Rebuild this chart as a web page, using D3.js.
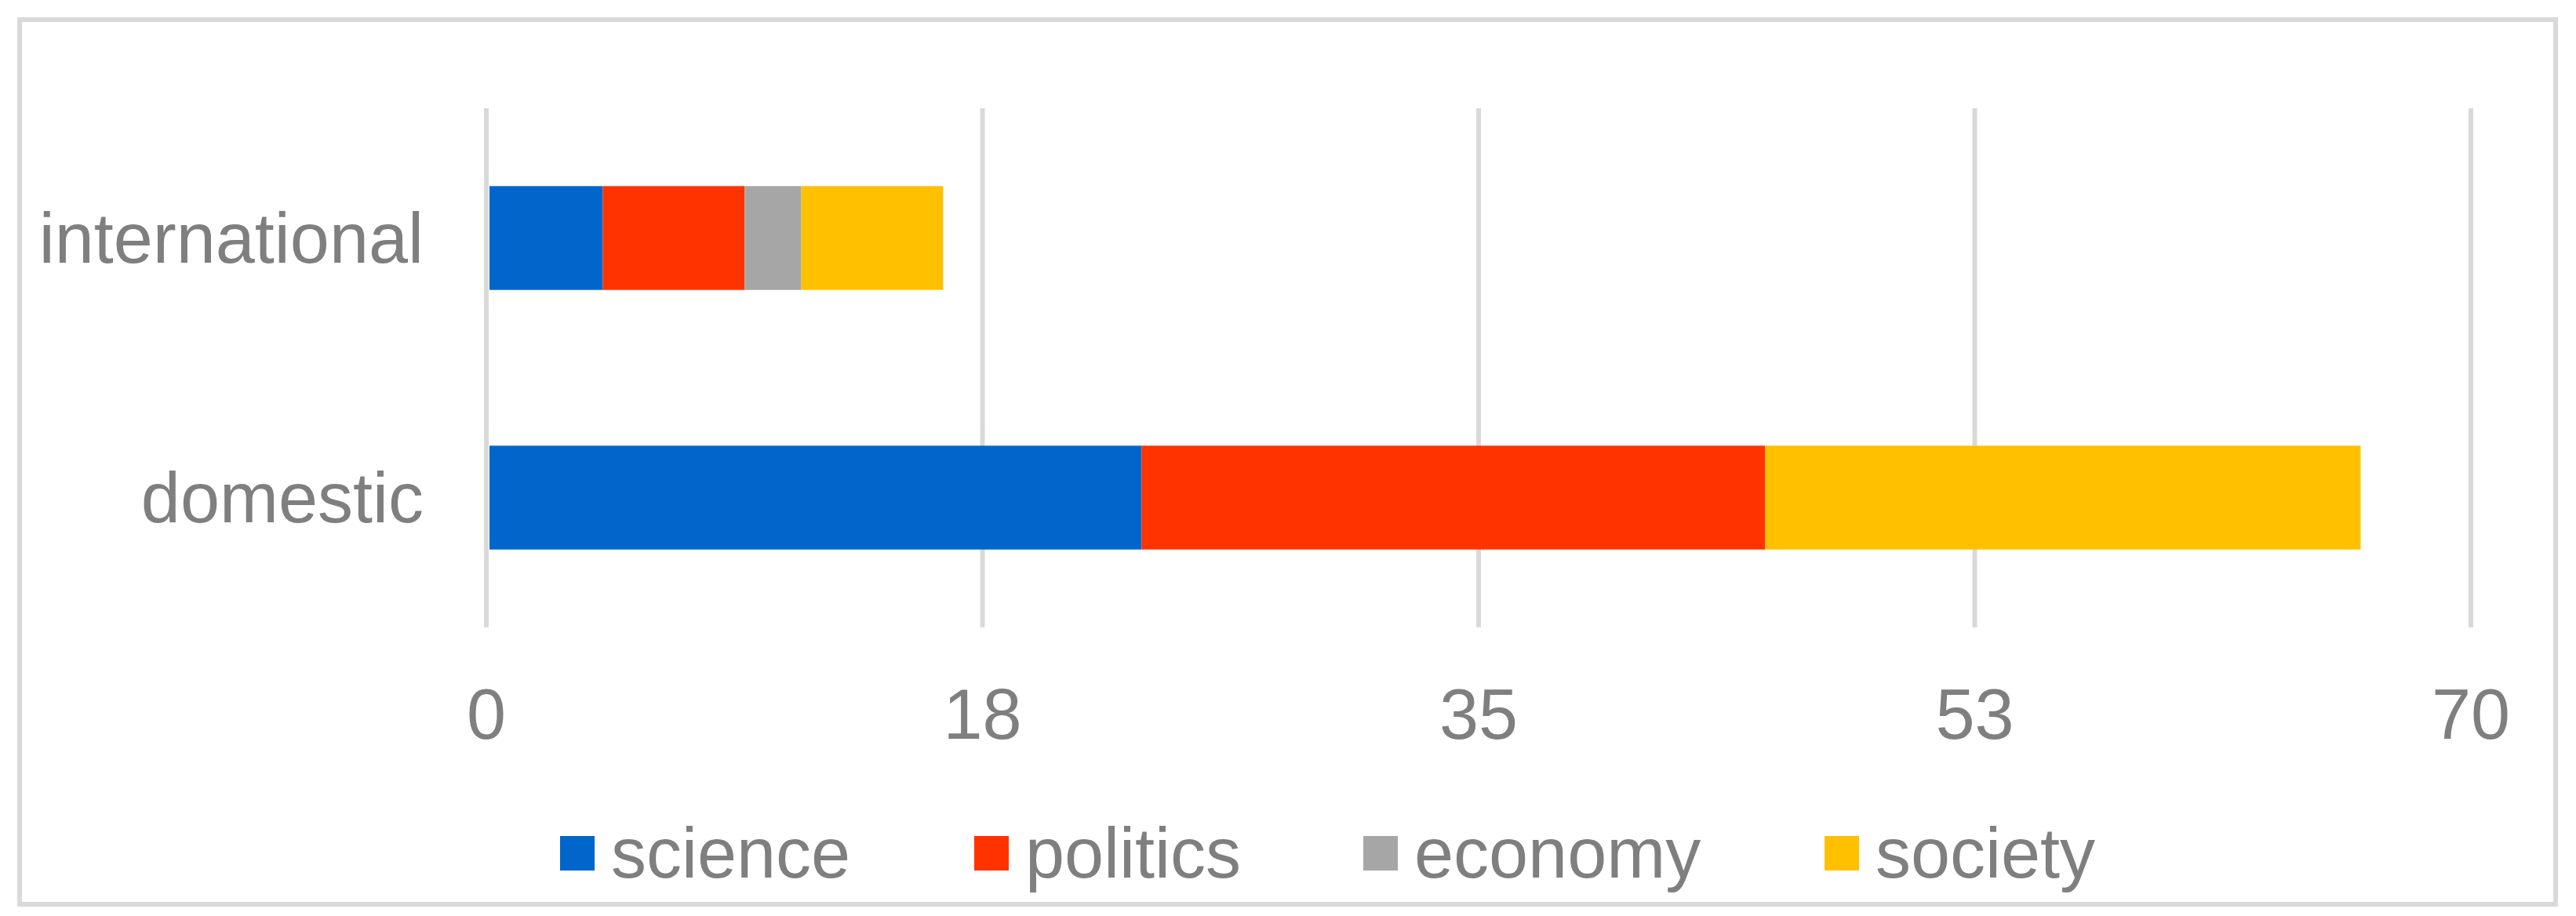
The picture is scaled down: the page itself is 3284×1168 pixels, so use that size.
<!DOCTYPE html>
<html lang="en">
<head>
<meta charset="utf-8">
<title>Stacked bars</title>
<script src="https://cdn.jsdelivr.net/npm/d3@7"></script>
<style>
body { margin: 0; background: #fff; }
text { font-family: "Liberation Sans", Arial, sans-serif; fill: #7f7f7f; }
</style>
</head>
<body>
<script>
var categories = ["international", "domestic"];
var seriesNames = ["science", "politics", "economy", "society"];
var colors = ["#0066cc", "#ff3300", "#a6a6a6", "#ffc000"];
var science = [4, 23];
var politics = [5, 22];
var economy = [2, 0];
var society = [5, 21];
var tickValues = [0, 17.5, 35, 52.5, 70];

var w = 3284, h = 1168;
var svg = d3.select("body").append("svg").attr("width", w).attr("height", h);

svg.append("rect").attr("x", 25).attr("y", 25).attr("width", 3233).attr("height", 1128)
   .attr("fill", "none").attr("stroke", "#d9d9d9").attr("stroke-width", 6);

var x = d3.scaleLinear().domain([0, 70]).range([620, 3150]);
var y = d3.scaleBand().domain(categories).range([138, 800]).paddingInner(0.6).paddingOuter(0.3);

// gridlines
svg.selectAll("line.grid").data(tickValues).enter().append("line")
   .attr("x1", d => x(d)).attr("x2", d => x(d))
   .attr("y1", 138).attr("y2", 800)
   .attr("stroke", "#d9d9d9").attr("stroke-width", 6);

var rows = categories.map(function(c, i) {
  return { cat: c, science: science[i], politics: politics[i], economy: economy[i], society: society[i] };
});
var stack = d3.stack().keys(seriesNames)(rows);

svg.selectAll("g.series").data(stack).enter().append("g")
   .attr("fill", (d, i) => colors[i])
   .selectAll("rect").data(d => d).enter().append("rect")
   .attr("x", d => x(d[0]) + 4)
   .attr("width", d => Math.max(0, x(d[1]) - x(d[0])))
   .attr("y", d => y(d.data.cat))
   .attr("height", y.bandwidth());

// category labels
svg.selectAll("text.cat").data(categories).enter().append("text")
   .attr("x", 540).attr("y", d => y(d) + y.bandwidth() / 2)
   .attr("text-anchor", "end").attr("dominant-baseline", "central")
   .attr("font-size", 90).text(d => d);

// tick labels
svg.selectAll("text.tick").data(tickValues).enter().append("text")
   .attr("x", d => x(d)).attr("y", 942)
   .attr("text-anchor", "middle").attr("font-size", 90)
   .text(d => Math.round(d));

// legend
var legendX = [714, 1242, 1738, 2326];
var lg = svg.selectAll("g.legend").data(seriesNames).enter().append("g")
   .attr("transform", (d, i) => "translate(" + legendX[i] + ",1066)");
lg.append("rect").attr("width", 44).attr("height", 44).attr("fill", (d, i) => colors[i]);
lg.append("text").attr("x", 65).attr("y", 22).attr("dominant-baseline", "central")
   .attr("font-size", 90).text(d => d);
</script>
</body>
</html>
